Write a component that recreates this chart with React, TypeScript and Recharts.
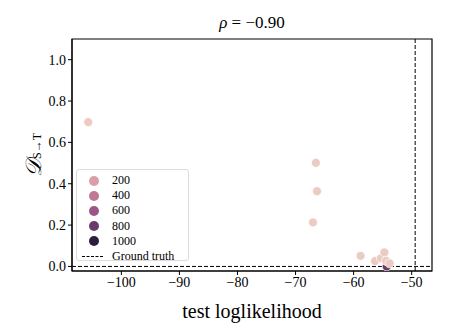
import React from "react";
import {
  ScatterChart,
  Scatter,
  XAxis,
  YAxis,
  ZAxis,
  Cell,
  ReferenceLine,
  ReferenceArea,
} from "recharts";

document.body.style.margin = "0";

// test loglikelihood vs divergence, hue = training size
const loglik = [-54.3, -105.7, -66.5, -66.3, -67.0, -58.8, -56.3, -55.3, -54.7, -54.4, -53.8];
const divergence = [0.0, 0.698, 0.501, 0.364, 0.213, 0.051, 0.026, 0.04, 0.068, 0.027, 0.015];
const hue = [800, 20, 20, 20, 20, 20, 20, 20, 20, 20, 20];

const legendValues = [200, 400, 600, 800, 1000];
const xTicks = [-100, -90, -80, -70, -60, -50];
const yTicks = [0, 0.2, 0.4, 0.6, 0.8, 1.0];
const groundTruthX = -49.4;
const groundTruthY = 0;

const STOPS: [number, string][] = [
  [0, "#eed0c5"],
  [200, "#d99fa6"],
  [400, "#c07894"],
  [600, "#9c5685"],
  [800, "#6b3a6c"],
  [1000, "#2d1e3e"],
];

function hex(c: string) {
  return [1, 3, 5].map((i) => parseInt(c.slice(i, i + 2), 16));
}

function colorFor(v: number) {
  for (let i = 0; i < STOPS.length - 1; i++) {
    const [a, ca] = STOPS[i];
    const [b, cb] = STOPS[i + 1];
    if (v <= b) {
      const t = (v - a) / (b - a);
      const A = hex(ca);
      const B = hex(cb);
      const m = A.map((x, k) => Math.round(x + (B[k] - x) * t));
      return `rgb(${m[0]},${m[1]},${m[2]})`;
    }
  }
  return STOPS[STOPS.length - 1][1];
}

const data = loglik.map((x, i) => ({ x, y: divergence[i], h: hue[i] }));

const FONT = "'Liberation Serif', 'DejaVu Serif', serif";
const XMIN = -108.5;
const XMAX = -46.5;
const YMIN = -0.022;
const YMAX = 1.1;

const fmtX = (v: number) => (v < 0 ? "\u2212" + Math.abs(v) : String(v));

const YLabel = (props: any) => {
  const vb = props.viewBox || {};
  const cy = (vb.y || 0) + (vb.height || 0) / 2;
  return (
    <text
      transform={`translate(33, ${cy}) rotate(-90)`}
      textAnchor="middle"
      dominantBaseline="central"
      fontFamily={FONT}
      fill="#000"
    >
      <tspan fontSize={22} fontStyle="italic">𝒟</tspan>
      <tspan fontSize={12} dy={4}>S→T</tspan>
    </text>
  );
};

export default function App() {
  return (
    <div style={{ position: "relative", width: 449, height: 336, fontFamily: FONT }}>
      <div
        style={{
          position: "absolute",
          left: 72,
          width: 360,
          top: 13,
          textAlign: "center",
          fontSize: 17,
          fontFamily: FONT,
        }}
      >
        <i>ρ</i> = −0.90
      </div>
      <ScatterChart
        width={449}
        height={336}
        margin={{ top: 39, right: 17, bottom: 35, left: 12 }}
      >
        <XAxis
          type="number"
          dataKey="x"
          domain={[XMIN, XMAX]}
          ticks={xTicks}
          tickFormatter={fmtX}
          allowDataOverflow
          height={30}
          tickSize={4}
          stroke="#000"
          tick={{ fill: "#000", fontSize: 14, fontFamily: FONT }}
          label={{
            value: "test loglikelihood",
            position: "insideBottom",
            offset: -17,
            fill: "#000",
            fontSize: 20,
            fontFamily: FONT,
          }}
        />
        <YAxis
          type="number"
          dataKey="y"
          domain={[YMIN, YMAX]}
          ticks={yTicks}
          tickFormatter={(v: number) => v.toFixed(1)}
          allowDataOverflow
          width={60}
          tickSize={4}
          stroke="#000"
          tick={{ fill: "#000", fontSize: 14, fontFamily: FONT }}
          label={<YLabel />}
        />
        <ZAxis range={[80, 80]} />
        <ReferenceArea
          x1={XMIN}
          x2={XMAX}
          y1={YMIN}
          y2={YMAX}
          fill="none"
          stroke="#000"
          strokeWidth={1.2}
          ifOverflow="visible"
        />
        <ReferenceLine x={groundTruthX} stroke="#000" strokeDasharray="4 2" />
        <ReferenceLine y={groundTruthY} stroke="#000" strokeDasharray="4 2" />
        <Scatter data={data} isAnimationActive={false} stroke="#fff" strokeWidth={0.75}>
          {data.map((d, i) => (
            <Cell key={`c-${i}`} fill={colorFor(d.h)} />
          ))}
        </Scatter>
      </ScatterChart>
      <div
        style={{
          position: "absolute",
          left: 76,
          top: 169,
          width: 113,
          height: 92,
          boxSizing: "border-box",
          border: "1px solid #dcdcdc",
          borderRadius: 3,
          background: "rgba(255,255,255,0.8)",
          fontSize: 12,
        }}
      >
        {legendValues.map((v, i) => (
          <div
            key={v}
            style={{ position: "absolute", left: 0, top: 3 + i * 15.2, height: 15, display: "flex", alignItems: "center" }}
          >
            <span
              style={{
                display: "inline-block",
                width: 10,
                height: 10,
                borderRadius: 5,
                background: colorFor(v),
                marginLeft: 12,
                marginRight: 13,
              }}
            />
            <span>{v}</span>
          </div>
        ))}
        <div
          style={{ position: "absolute", left: 0, top: 3 + 5 * 15.2, height: 15, display: "flex", alignItems: "center" }}
        >
          <span
            style={{
              display: "inline-block",
              width: 21,
              borderTop: "1px dashed #000",
              marginLeft: 5,
              marginRight: 9,
            }}
          />
          <span>Ground truth</span>
        </div>
      </div>
    </div>
  );
}
